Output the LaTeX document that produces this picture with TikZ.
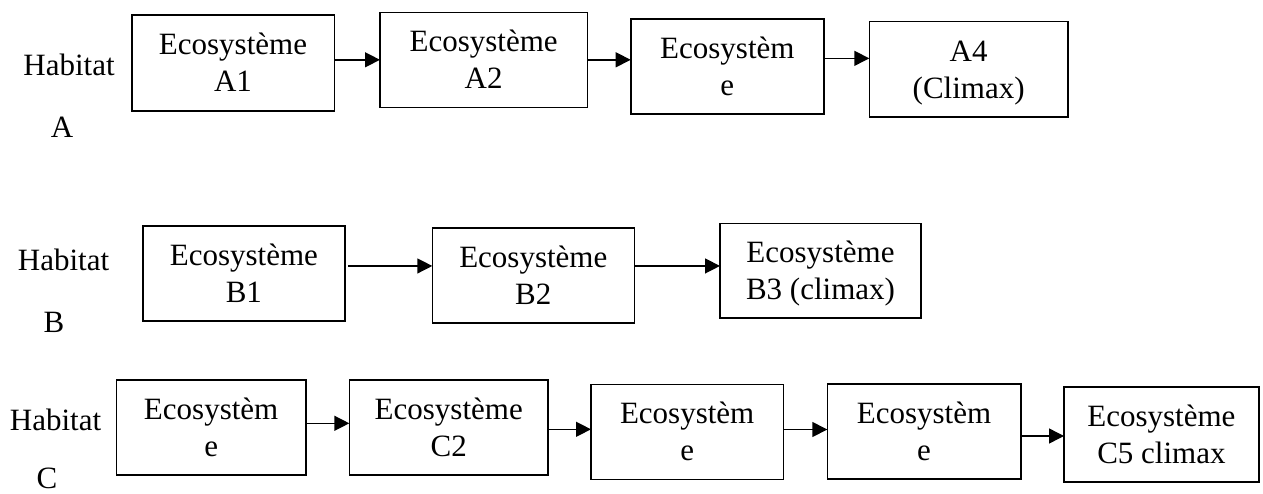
\documentclass[tikz,border=0pt]{standalone}
\usepackage{fontspec}
\setmainfont{Liberation Serif}
\usetikzlibrary{arrows.meta}
\newcommand\ecst{\rule[-7pt]{0pt}{35pt}}
\begin{document}
\begin{tikzpicture}[x=1pt,y=-1pt,
  eco/.style={draw, line width=1.6pt, inner sep=0pt, outer sep=0pt, align=center,
    font=\fontsize{31}{37}\selectfont},
  lab/.style={inner sep=0pt, anchor=base, font=\fontsize{31}{37}\selectfont},
  arr/.style={line width=1.4pt, -{Triangle[length=15pt,width=15pt]}}]
\useasboundingbox (0,0) rectangle (1263,493);
% labels
\node[lab] (hA) at (69,75) {Habitat};
\node[lab] (lA) at (62,137) {A};
\node[lab] (hB) at (63.6,270.7) {Habitat};
\node[lab] (lB) at (54,332.7) {B};
\node[lab] (hC) at (55.5,430) {Habitat};
\node[lab] (lC) at (47,488.5) {C};
% row A
\node[eco, minimum width=202.6pt, minimum height=95.7pt] (A1) at (233,62.85) {\ecst Ecosystème\\\ecst A1};
\node[eco, minimum width=207.3pt, minimum height=95pt] (A2) at (483.65,59.8) {\ecst Ecosystème\\\ecst A2};
\node[eco, minimum width=193.3pt, minimum height=95.3pt] (A3) at (727.35,66.35) {\ecst Ecosystèm\\\ecst e};
\node[eco, minimum width=198.7pt, minimum height=95.4pt] (A4) at (968.65,69) {\ecst A4\\\ecst (Climax)};
% row B
\node[eco, minimum width=202.3pt, minimum height=94.7pt] (B1) at (243.85,273.35) {\ecst Ecosystème\\\ecst B1};
\node[eco, minimum width=202pt, minimum height=94.7pt] (B2) at (533.3,275.35) {\ecst Ecosystème\\\ecst B2};
\node[eco, minimum width=201pt, minimum height=94.7pt] (B3) at (820.5,270.65) {\ecst Ecosystème\\\ecst B3 (climax)};
% row C
\node[eco, minimum width=189.7pt, minimum height=95pt] (C1) at (211.15,427.5) {\ecst Ecosystèm\\\ecst e};
\node[eco, minimum width=198.9pt, minimum height=95pt] (C2) at (448.75,427.5) {\ecst Ecosystème\\\ecst C2};
\node[eco, minimum width=192.3pt, minimum height=95pt] (C3) at (687.15,431.8) {\ecst Ecosystèm\\\ecst e};
\node[eco, minimum width=193.4pt, minimum height=95pt] (C4) at (924,431.5) {\ecst Ecosystèm\\\ecst e};
\node[eco, minimum width=194.8pt, minimum height=95pt] (C5) at (1161.4,434.2) {\ecst Ecosystème\\\ecst C5 climax};
% arrows
\draw[arr] (A1.east |- A2.west) -- (A2.west);
\draw[arr] (A2.east) -- (A2.east -| A3.west);
\draw[arr] ([yshift=8pt]A3.east) -- ([yshift=8pt]A3.east -| A4.west);
\draw[arr] ([yshift=7.4pt,xshift=3pt]B1.east) -- ([yshift=7.4pt]B1.east -| B2.west);
\draw[arr] ([yshift=9.4pt]B2.east) -- ([yshift=9.4pt]B2.east -| B3.west);
\draw[arr] ([yshift=4.2pt]C1.east) -- ([yshift=4.2pt]C1.east -| C2.west);
\draw[arr] ([yshift=-1.8pt]C2.east) -- ([yshift=-1.8pt]C2.east -| C3.west);
\draw[arr] ([yshift=2.3pt]C3.east) -- ([yshift=2.3pt]C3.east -| C4.west);
\draw[arr] ([yshift=-4.5pt]C4.east) -- ([yshift=-4.5pt]C4.east -| C5.west);
\end{tikzpicture}
\end{document}
